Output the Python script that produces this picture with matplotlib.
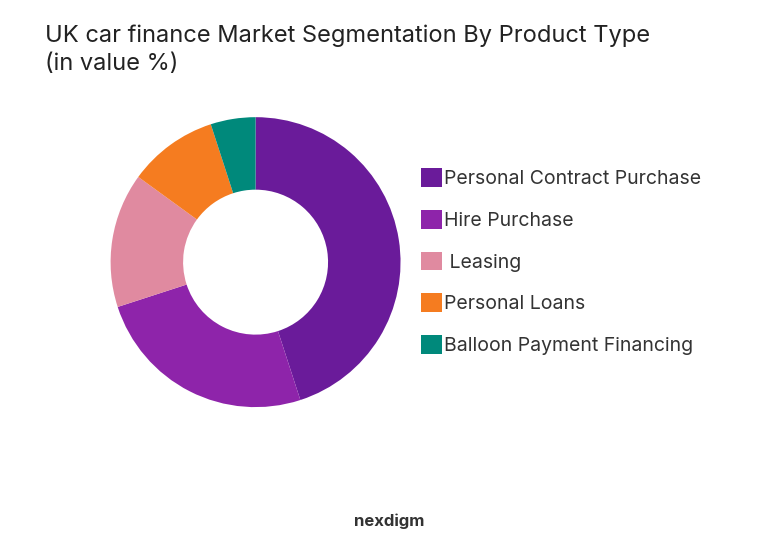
import matplotlib.pyplot as plt
from matplotlib.patches import Patch

labels = ["Personal Contract Purchase", "Hire Purchase", " Leasing", "Personal Loans", "Balloon Payment Financing"]
values = [45, 25, 15, 10, 5]
colors = ["#6A1B9A", "#8E24AA", "#E08AA0", "#F57C20", "#00897B"]

plt.rcParams['font.family'] = ['Inter', 'DejaVu Sans']
fig = plt.figure(figsize=(7.78, 5.45), dpi=100)
ax = fig.add_axes([0.142, 0.253, 0.373, 0.532])
ax.pie(values, colors=colors, startangle=90, counterclock=False,
       wedgeprops=dict(width=0.5, edgecolor='none'))
ax.set_xlim(-1, 1); ax.set_ylim(-1, 1)
ax.set_aspect('equal')
fig.text(0.058, 0.955, "UK car finance Market Segmentation By Product Type\n(in value %)",
         fontsize=17, va='top', ha='left', color='#222222', linespacing=1.35)
handles = [Patch(facecolor=c, label=l) for c, l in zip(colors, labels)]
fig.legend(handles=handles, loc='center left', bbox_to_anchor=(0.518, 0.52),
           frameon=False, fontsize=14, handlelength=1.1, handleheight=1.1,
           handletextpad=0.1, labelspacing=1.12, labelcolor='#333333')
fig.text(0.5, 0.043, "nexdigm", fontsize=12, ha='center', va='center', color='#333333', weight='bold')
fig.savefig("out.png", dpi=100, facecolor='white')
